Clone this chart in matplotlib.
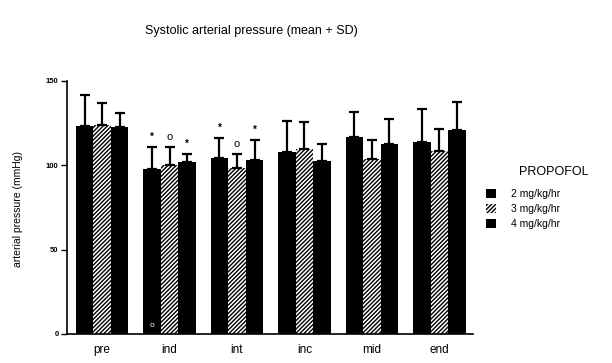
import numpy as np
import matplotlib
matplotlib.use("Agg")
import matplotlib.pyplot as plt

# ─── Data ─────────────────────────────────────────────────────────────────────
phases   = ["pre", "ind", "int", "inc", "mid", "end"]
doses    = ["2 mg/kg/hr", "3 mg/kg/hr", "4 mg/kg/hr"]
mean_2mg = [123.3,  98.0, 104.5, 107.7, 116.6, 113.8]
mean_3mg = [124.0, 100.0,  98.2, 109.5, 103.5, 108.5]
mean_4mg = [122.5, 101.8, 103.0, 102.7, 112.6, 120.7]
sd_2mg   = [18.4, 12.7, 11.5, 18.3, 15.0, 19.8]
sd_3mg   = [13.0, 10.7,  8.5, 16.2, 11.5, 12.8]
sd_4mg   = [ 8.5,  4.9, 12.0, 10.1, 14.7, 16.6]
# significance marks: (phase index, dose index, symbol)
marks    = [(1, 0, "*"), (1, 1, "o"), (1, 2, "*"),
            (2, 0, "*"), (2, 1, "o"), (2, 2, "*")]

plt.rcParams["font.family"] = ["Liberation Sans", "DejaVu Sans"]
plt.rcParams["hatch.linewidth"] = 1.0

fig = plt.figure(figsize=(6.12, 3.63), dpi=100)
ax = fig.add_axes([0.1095, 0.08, 0.6634, 0.697])

x = np.arange(len(phases))
w = 0.26
means = [mean_2mg, mean_3mg, mean_4mg]
sds   = [sd_2mg, sd_3mg, sd_4mg]
styles = [dict(color="black"),
          dict(color="white", edgecolor="black", hatch="////////", linewidth=0),
          dict(color="black")]

handles = []
for i in range(3):
    pos = x + (i - 1) * w
    b = ax.bar(pos, means[i], width=w, **styles[i], zorder=2)
    ax.errorbar(pos, means[i], yerr=[np.zeros(len(phases)), sds[i]], fmt="none",
                ecolor="black", elinewidth=1.6, capsize=3.5, capthick=1.6, zorder=3)
    handles.append(b)

for p, d, s in marks:
    top = means[d][p] + sds[d][p]
    ax.text(p + (d - 1) * w, top + 3, s, ha="center", va="bottom",
            fontsize=8 if s == "o" else 7, fontweight="bold" if s == "*" else "normal")

# small open circle at the foot of the first "ind" bar
ax.text(1 - w, 5, "o", color="white", ha="center", va="center", fontsize=6, zorder=4)

ax.set_xlim(-0.52, 5.5)
ax.set_ylim(0, 150)
ax.set_yticks([0, 50, 100, 150])
ax.tick_params(axis="y", labelsize=5.5, length=4, width=1, pad=2)
ax.set_xticks(x)
ax.set_xticklabels(phases, fontsize=8.5)
ax.tick_params(axis="x", length=0, pad=7)
for lbl in ax.get_yticklabels():
    lbl.set_fontweight("bold")
ax.spines["top"].set_visible(False)
ax.spines["right"].set_visible(False)
ax.spines["left"].set_linewidth(1.2)
ax.spines["bottom"].set_linewidth(1.2)

fig.text(0.41, 0.915, "Systolic arterial pressure (mean + SD)", ha="center",
         va="center", fontsize=9)
fig.text(0.03, 0.425, "arterial pressure (mmHg)", rotation=90, ha="center",
         va="center", fontsize=7.5)
fig.text(0.848, 0.525, "PROPOFOL", ha="left", va="center", fontsize=9)

leg = fig.legend(handles, doses, loc="upper left", bbox_to_anchor=(0.778, 0.505),
                 frameon=False, fontsize=7.5, handlelength=1.0, handleheight=1.0,
                 handletextpad=1.4, labelspacing=0.45)

fig.savefig("out.png", dpi=100)
